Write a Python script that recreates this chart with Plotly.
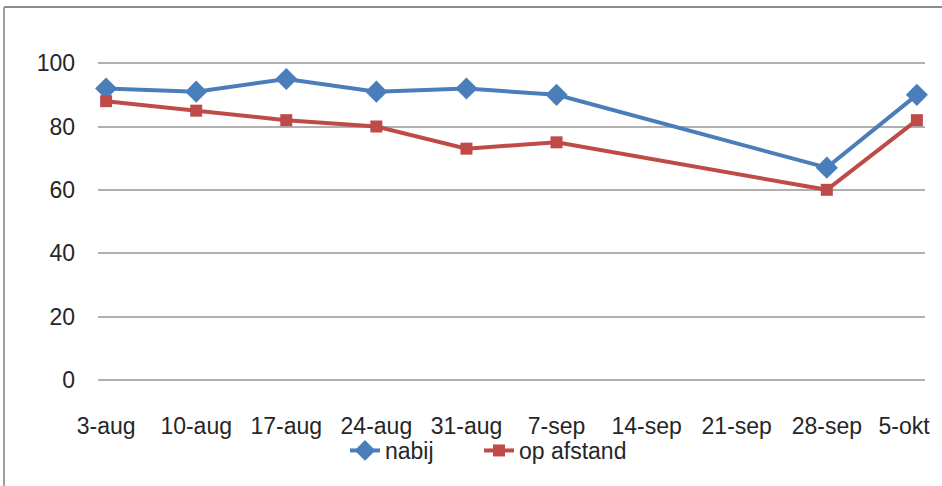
import plotly.graph_objects as go

categories = ["3-aug", "10-aug", "17-aug", "24-aug", "31-aug", "7-sep",
              "14-sep", "21-sep", "28-sep", "5-okt"]
nabij = [92, 91, 95, 91, 92, 90, None, None, 67, 90]
op_afstand = [88, 85, 82, 80, 73, 75, None, None, 60, 82]
y_ticks = [0, 20, 40, 60, 80, 100]

W, H = 942, 486
L, R = 98, 925
T, B = 60, 383   # y=101 at T, y=-1 at B (100 -> ~63px, 0 -> ~380px)

FONT = "Liberation Sans, Arial, sans-serif"
FS = 23

# Like Excel, the last label is nudged inward so it stays inside the chart
tick_text = categories[:-1] + [categories[-1] + "\u00a0" * 4]

fig = go.Figure()
fig.add_trace(go.Scatter(
    x=categories, y=nabij, name="nabij", mode="lines+markers",
    connectgaps=True, cliponaxis=False, legend="legend",
    line=dict(color="#4A7EBB", width=4),
    marker=dict(symbol="diamond", size=17, color="#4A7EBB"),
))
fig.add_trace(go.Scatter(
    x=categories, y=op_afstand, name="op afstand", mode="lines+markers",
    connectgaps=True, cliponaxis=False, legend="legend2",
    line=dict(color="#BE4B48", width=4),
    marker=dict(symbol="square", size=12, color="#BE4B48"),
))

def px_x(p):
    return (p - L) / (R - L)

def px_y(p):
    return (B - p) / (B - T)

legend_common = dict(orientation="h", xanchor="left", yanchor="top",
                     font=dict(family=FONT, size=FS, color="#262626"),
                     itemwidth=30, bgcolor="rgba(0,0,0,0)")

fig.update_layout(
    width=W, height=H,
    margin=dict(l=L, r=W - R, t=T, b=H - B, pad=0, autoexpand=False),
    paper_bgcolor="white", plot_bgcolor="white",
    font=dict(family=FONT, size=FS, color="#262626"),
    showlegend=True,
    legend=dict(x=px_x(345), y=px_y(429), **legend_common),
    legend2=dict(x=px_x(479), y=px_y(429), **legend_common),
    xaxis=dict(type="category", categoryorder="array", categoryarray=categories,
               tickmode="array", tickvals=categories, ticktext=tick_text,
               range=[-0.09, len(categories) - 1 + 0.09],
               showgrid=False, showline=False, zeroline=False,
               ticks="", ticklabelstandoff=27, automargin=False,
               tickfont=dict(family=FONT, size=FS, color="#262626")),
    yaxis=dict(range=[-1, 101], tickvals=y_ticks,
               showgrid=True, gridcolor="#B0B0B0", gridwidth=2,
               zeroline=False, showline=False, ticks="",
               ticklabelstandoff=22, automargin=False,
               tickfont=dict(family=FONT, size=FS, color="#262626")),
    shapes=[
        dict(type="line", xref="paper", yref="paper",
             x0=px_x(4), x1=px_x(950), y0=px_y(7), y1=px_y(7),
             line=dict(color="#8C8C8C", width=2)),
        dict(type="line", xref="paper", yref="paper",
             x0=px_x(4), x1=px_x(4), y0=px_y(7), y1=px_y(495),
             line=dict(color="#A0A0A0", width=2)),
    ],
)

fig.write_html("out.html")
